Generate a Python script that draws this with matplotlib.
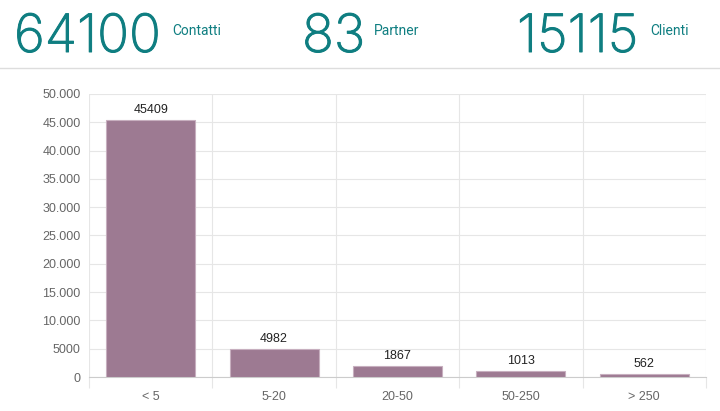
import matplotlib
matplotlib.use("Agg")
import matplotlib.pyplot as plt
import matplotlib.patheffects as pe
from matplotlib.ticker import FixedLocator

categories = ["< 5", "5-20", "20-50", "50-250", "> 250"]
values = [45409, 4982, 1867, 1013, 562]
yticks = [0, 5000, 10000, 15000, 20000, 25000, 30000, 35000, 40000, 45000, 50000]
ytick_labels = ["0", "5000", "10.000", "15.000", "20.000", "25.000", "30.000",
                "35.000", "40.000", "45.000", "50.000"]
kpi_values = ["64100", "83", "15115"]
kpi_labels = ["Contatti", "Partner", "Clienti"]

W, H = 720, 411
fig = plt.figure(figsize=(W / 100, H / 100), dpi=100)
plt.rcParams['font.family'] = ['Liberation Sans', 'DejaVu Sans']

teal = "#0f7e81"
kpi_x = [14, 302, 517]
lab_x = [172, 374, 650]
for v, l, x, lx in zip(kpi_values, kpi_labels, kpi_x, lab_x):
    fig.text(x / W, 1 - 52 / H, v, fontsize=38, color=teal, fontweight='light',
             family=['Inter', 'DejaVu Sans'], ha='left', va='baseline',
             path_effects=[pe.withStroke(linewidth=0.7, foreground=teal)])
    fig.text(lx / W, 1 - 31 / H, l, fontsize=10, color=teal, family=['Roboto', 'DejaVu Sans'],
             ha='left', va='center')

fig.add_artist(plt.Line2D([0, 1], [1 - 68 / H, 1 - 68 / H], color="#dddddd", lw=1,
                          transform=fig.transFigure))

left, right, top, bottom = 89, 706, 94, 377
ax = fig.add_axes([left / W, 1 - bottom / H, (right - left) / W, (bottom - top) / H])
x = list(range(len(categories)))
ax.bar(x, values, width=0.72, color="#9d7a92", edgecolor="#c7afbf", linewidth=0.8, zorder=3)
ax.set_xlim(-0.5, len(categories) - 0.5)
ax.set_ylim(0, 50000)
ax.yaxis.set_major_locator(FixedLocator(yticks))
ax.set_yticklabels(ytick_labels)
ax.set_xticks(x)
ax.set_xticklabels(categories)
ax.xaxis.set_minor_locator(FixedLocator([i - 0.5 for i in range(len(categories) + 1)]))
ax.grid(axis='y', color="#e6e6e6", lw=0.8, zorder=0)
ax.grid(axis='x', which='minor', color="#e6e6e6", lw=0.8, zorder=0)
ax.tick_params(axis='x', which='major', length=0, pad=10, labelsize=9, labelcolor="#666666")
ax.tick_params(axis='x', which='minor', length=8, color="#e6e6e6", width=0.8)
ax.tick_params(axis='y', length=0, pad=6, labelsize=9, labelcolor="#666666")
for s in ["top", "right", "left"]:
    ax.spines[s].set_visible(False)
ax.spines["bottom"].set_color("#cccccc")
for i, v in enumerate(values):
    ax.annotate(str(v), (i, v), xytext=(0, 3), textcoords="offset points",
                ha='center', va='bottom', fontsize=9, color="#222222")

fig.savefig("out.png", dpi=100, facecolor="white")
